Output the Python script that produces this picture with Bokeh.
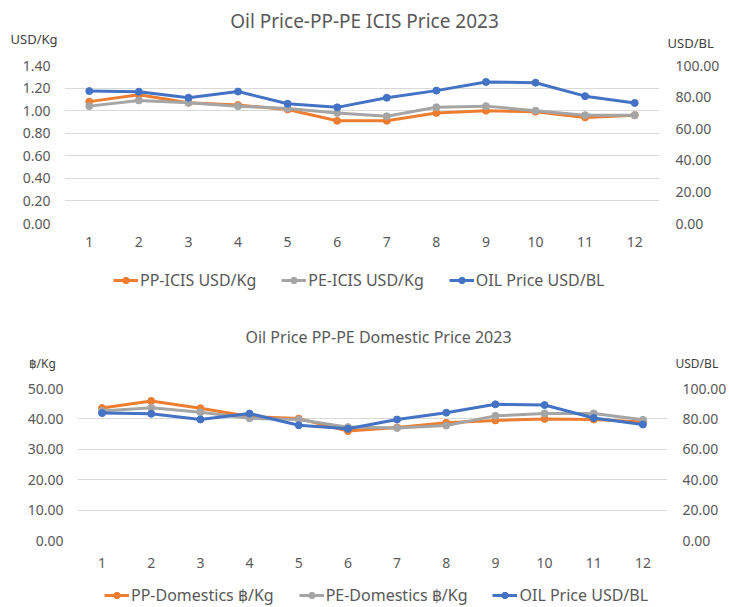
from bokeh.plotting import figure
from bokeh.models import (Range1d, LinearAxis, Legend, LegendItem, Label,
                          FixedTicker, NumeralTickFormatter)
from bokeh.embed import file_html
from bokeh.resources import INLINE

months = [1, 2, 3, 4, 5, 6, 7, 8, 9, 10, 11, 12]
month_labels = [str(m) for m in months]

# ICIS prices (USD/Kg)
pp_icis = [1.08, 1.14, 1.07, 1.05, 1.01, 0.91, 0.91, 0.98, 1.00, 0.99, 0.94, 0.96]
pe_icis = [1.04, 1.09, 1.07, 1.04, 1.02, 0.98, 0.95, 1.03, 1.04, 1.00, 0.96, 0.96]
# Oil price (USD/BL)
oil_price = [83.8, 83.4, 79.6, 83.5, 75.8, 73.5, 79.6, 84.1, 89.6, 89.1, 80.6, 76.3]
# Domestic prices (Baht/Kg)
pp_dom = [43.6, 45.9, 43.5, 40.8, 40.1, 36.0, 37.2, 38.7, 39.5, 40.0, 39.8, 39.0]
pe_dom = [42.6, 43.7, 42.2, 40.2, 39.8, 37.3, 37.0, 37.8, 41.0, 41.8, 41.8, 39.7]

left_ticks_top = [0.0, 0.2, 0.4, 0.6, 0.8, 1.0, 1.2, 1.4]
right_ticks = [0, 20, 40, 60, 80, 100]
left_ticks_bot = [0, 10, 20, 30, 40, 50]

ORANGE = "#ED7D31"
GRAY = "#A5A5A5"
BLUE = "#4472C4"
TXT = "#595959"
GRID = "#D9D9D9"
FONT = "Noto Sans"
W = 729


def style_axis(ax, size, standoff):
    ax.axis_line_color = None
    ax.major_tick_line_color = None
    ax.minor_tick_line_color = None
    ax.major_tick_in = 0
    ax.major_tick_out = 0
    ax.major_label_text_color = TXT
    ax.major_label_text_font = FONT
    ax.major_label_text_font_size = size
    ax.major_label_standoff = standoff


def blank(height):
    f = figure(width=W, height=height, output_backend="svg", toolbar_location=None,
               x_range=Range1d(0, W), y_range=Range1d(height, 0),
               x_axis_type=None, y_axis_type=None,
               min_border_left=0, min_border_right=0,
               min_border_top=0, min_border_bottom=0)
    f.outline_line_color = None
    f.xgrid.grid_line_color = None
    f.ygrid.grid_line_color = None
    return f


def header(height, title, title_size, title_xy, left_unit, left_xy, right_xy, unit_size):
    h = blank(height)
    h.add_layout(Label(x=title_xy[0], y=title_xy[1], text=title, text_align="center",
                       text_baseline="middle", text_font=FONT,
                       text_font_size=title_size, text_color=TXT))
    h.add_layout(Label(x=left_xy[0], y=left_xy[1], text=left_unit, text_align="left",
                       text_baseline="middle", text_font=FONT,
                       text_font_size=unit_size, text_color="#404040"))
    h.add_layout(Label(x=right_xy[0], y=right_xy[1], text="USD/BL", text_align="left",
                       text_baseline="middle", text_font=FONT,
                       text_font_size=unit_size, text_color="#404040"))
    return h


def footer(height, series, loc):
    # legend-only strip; its renderers carry the series but are hidden
    f = blank(height)
    items = []
    for name, vals, color, _ in series:
        ln = f.line(months, vals, line_color=color, line_width=3, visible=False)
        sc = f.scatter(months, vals, size=7, fill_color=color, line_color=color,
                       visible=False)
        items.append(LegendItem(label=name, renderers=[ln, sc]))
    legend = Legend(items=items, orientation="horizontal", location=loc,
                    glyph_width=25, glyph_height=16, label_standoff=2, spacing=25,
                    padding=0, margin=0, border_line_color=None,
                    background_fill_alpha=0, label_text_font=FONT,
                    label_text_font_size="16px", label_text_color=TXT,
                    label_height=20, click_policy="none")
    f.add_layout(legend)
    return f


def make_chart(series, left_max, left_ticks, height, borders, tick_size,
               ylab_standoff, rlab_standoff, xlab_standoff):
    bl, br, bt, bb = borders
    p = figure(width=W, height=height, output_backend="svg", toolbar_location=None,
               x_range=Range1d(0.5, 12.5), y_range=Range1d(0, left_max),
               min_border_left=bl, min_border_right=br, min_border_top=bt,
               min_border_bottom=bb)
    p.extra_y_ranges = {"oil": Range1d(0, 100)}
    p.outline_line_color = None
    p.xgrid.grid_line_color = None
    p.ygrid.grid_line_color = GRID
    p.ygrid.grid_line_width = 1

    p.xaxis.ticker = FixedTicker(ticks=months)
    p.xaxis.major_label_overrides = {m: l for m, l in zip(months, month_labels)}
    style_axis(p.xaxis[0], tick_size, xlab_standoff)

    p.yaxis.ticker = FixedTicker(ticks=left_ticks)
    p.yaxis.formatter = NumeralTickFormatter(format="0.00")
    style_axis(p.yaxis[0], tick_size, ylab_standoff)

    rax = LinearAxis(y_range_name="oil", ticker=FixedTicker(ticks=right_ticks),
                     formatter=NumeralTickFormatter(format="0.00"))
    style_axis(rax, tick_size, rlab_standoff)
    p.add_layout(rax, "right")

    for name, vals, color, rng in series:
        kw = {"y_range_name": "oil"} if rng == "oil" else {}
        p.line(months, vals, line_color=color, line_width=3, **kw)
        p.scatter(months, vals, size=7, fill_color=color, line_color=color, **kw)
    return p


top_series = [("PP-ICIS USD/Kg", pp_icis, ORANGE, "left"),
              ("PE-ICIS USD/Kg", pe_icis, GRAY, "left"),
              ("OIL Price USD/BL", oil_price, BLUE, "oil")]
bot_series = [("PP-Domestics \u0e3f/Kg", pp_dom, ORANGE, "left"),
              ("PE-Domestics \u0e3f/Kg", pe_dom, GRAY, "left"),
              ("OIL Price USD/BL", oil_price, BLUE, "oil")]

h1 = header(56, "Oil Price-PP-PE ICIS Price 2023", "19px", (364, 20),
            "USD/Kg", (10, 38), (667, 42), "13px")
p1 = make_chart(top_series, 1.4, left_ticks_top, 206, (64, 70, 9, 39),
                "14px", 14, 16, 13)
f1 = footer(43, top_series, (113, 14))

h2 = header(69, "Oil Price PP-PE Domestic Price 2023", "16px", (378, 31),
            "\u0e3f/Kg", (28, 58), (675, 58), "12px")
p2 = make_chart(bot_series, 50, left_ticks_bot, 204, (77, 59, 14, 38),
                "14px", 14, 15, 17)
f2 = footer(29, bot_series, (104, 1))

open("out.html", "w").write(file_html([h1, p1, f1, h2, p2, f2], INLINE))
